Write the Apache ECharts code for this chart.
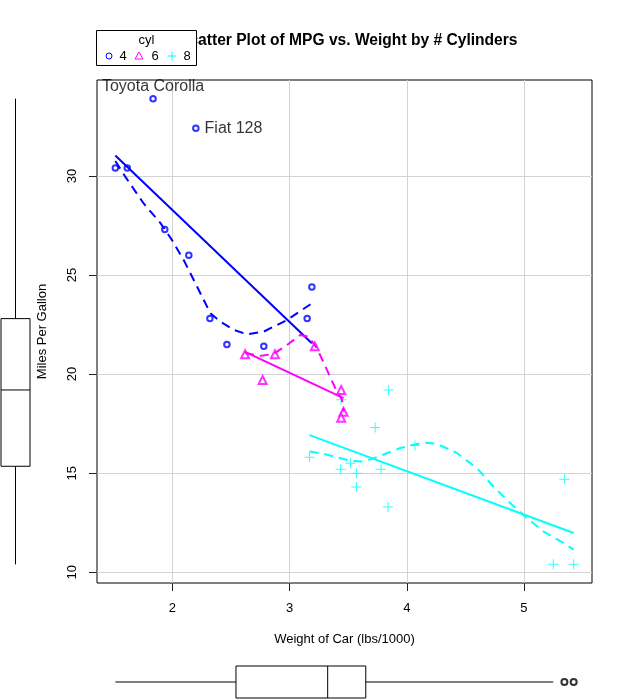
<!DOCTYPE html>
<html>
<head>
<meta charset="utf-8">
<script src="https://cdn.jsdelivr.net/npm/echarts@6/dist/echarts.min.js"></script>
<style>html,body{margin:0;padding:0;background:#fff}#c{width:626px;height:700px}</style>
</head>
<body>
<div id="c"></div>
<script>
// ---- data (mtcars: weight in 1000 lbs, miles per gallon) ----
const wt4  = [2.320, 3.190, 3.150, 2.200, 1.615, 1.835, 2.465, 1.935, 2.140, 1.513, 2.780];
const mpg4 = [22.8, 24.4, 22.8, 32.4, 30.4, 33.9, 21.5, 27.3, 26.0, 30.4, 21.4];
const names4 = ['', '', '', 'Fiat 128', '', 'Toyota Corolla', '', '', '', '', ''];
const wt6  = [2.620, 2.875, 3.215, 3.460, 3.440, 3.440, 2.770];
const mpg6 = [21.0, 21.0, 21.4, 18.1, 19.2, 17.8, 19.7];
const wt8  = [3.440, 3.570, 4.070, 3.730, 3.780, 5.250, 5.424, 5.345, 3.520, 3.435, 3.840, 3.845, 3.170, 3.570];
const mpg8 = [18.7, 14.3, 16.4, 17.3, 15.2, 10.4, 10.4, 14.7, 15.5, 15.2, 13.3, 19.2, 15.8, 15.0];

// regression lines (end points)
const fit4 = [[1.513, 31.03], [3.190, 21.56]];
const fit6 = [[2.620, 21.12], [3.460, 18.79]];
const fit8 = [[3.170, 16.92], [5.424, 11.98]];

// smoothed (dashed) curves
const smooth4 = [[1.513,30.75],[1.599,29.95],[1.755,28.61],[1.898,27.62],[1.997,26.76],[2.096,25.76],[2.211,24.41],[2.324,23.07],[2.409,22.65],[2.523,22.23],[2.637,22.01],[2.778,22.14],[2.978,22.73],[3.190,23.57]];
const smooth6 = [[2.620,21.07],[2.750,20.92],[2.864,21.02],[2.978,21.47],[3.091,21.97],[3.162,21.89],[3.234,21.30],[3.319,20.21],[3.390,19.29],[3.447,18.70],[3.460,18.11]];
const smooth8 = [[3.170,16.10],[3.290,15.98],[3.517,15.63],[3.631,15.59],[3.745,15.81],[3.944,16.27],[4.142,16.55],[4.257,16.48],[4.427,16.02],[4.598,15.26],[4.739,14.33],[4.882,13.50],[5.009,12.82],[5.165,12.07],[5.336,11.48],[5.424,11.14]];

// marginal boxplots: [lower whisker, lower hinge, median, upper hinge, upper whisker]
const mpgBox = [10.4, 15.35, 19.2, 22.8, 33.9];
const wtBox  = [1.513, 2.5425, 3.325, 3.65, 5.25];
const wtOutliers = [5.345, 5.424];

// ticks
const xTicks = [2, 3, 4, 5];
const yTicks = [10, 15, 20, 25, 30];
const cylLevels = ['4', '6', '8'];

// ---- styling ----
const FONT = '"Liberation Sans", Arial, Helvetica, sans-serif';
const WT_MIN = 1.35656, WT_MAX = 5.58044;
const MPG_MIN = 9.46, MPG_MAX = 34.84;
const BLUE = '#0000FF', MAGENTA = '#FF00FF', CYAN = '#00FFFF';
const PLUS = 'path://M9,0h2v9h9v2h-9v9h-2v-9h-9v-2h9z';

const pts = (xs, ys) => xs.map((x, i) => [x, ys[i]]);

const labelBase = {show: true, formatter: '{b}', fontSize: 16, color: '#000', fontFamily: FONT, textBorderWidth: 0};
const data4 = wt4.map((x, i) => {
  const item = {value: [x, mpg4[i]], name: names4[i]};
  if (names4[i] === 'Toyota Corolla') {
    item.label = Object.assign({}, labelBase, {position: 'top', distance: 0});
  } else if (names4[i]) {
    item.label = Object.assign({}, labelBase, {position: 'right', distance: 5});
  }
  return item;
});

function lineSeries(name, data, color, dashed) {
  return {
    name: name, type: 'line', xAxisIndex: 0, yAxisIndex: 0, data: data,
    symbol: 'none', showSymbol: false, silent: true, z: 4,
    lineStyle: {color: color, width: 2, type: dashed ? [9, 6] : 'solid', cap: 'butt'}
  };
}

function boxRender(vertical) {
  return function (params, api) {
    const v = [0, 1, 2, 3, 4].map(i => api.value(i));
    const P = val => vertical ? api.coord([0, val]) : api.coord([val, 0]);
    const half = 14.5;
    const hb = 16;
    const p = v.map(P);
    const children = [];
    if (vertical) {
      const cx = p[0][0];
      children.push({type: 'line', shape: {x1: cx, y1: p[0][1], x2: cx, y2: p[1][1]}, style: {stroke: '#000', lineWidth: 1}});
      children.push({type: 'line', shape: {x1: cx, y1: p[3][1], x2: cx, y2: p[4][1]}, style: {stroke: '#000', lineWidth: 1}});
      children.push({type: 'rect', shape: {x: cx - half, y: p[3][1], width: 2 * half, height: p[1][1] - p[3][1]}, style: {fill: '#fff', stroke: '#000', lineWidth: 1}});
      children.push({type: 'line', shape: {x1: cx - half, y1: p[2][1], x2: cx + half, y2: p[2][1]}, style: {stroke: '#000', lineWidth: 1}});
    } else {
      const cy = p[0][1];
      children.push({type: 'line', shape: {x1: p[0][0], y1: cy, x2: p[1][0], y2: cy}, style: {stroke: '#000', lineWidth: 1}});
      children.push({type: 'line', shape: {x1: p[3][0], y1: cy, x2: p[4][0], y2: cy}, style: {stroke: '#000', lineWidth: 1}});
      children.push({type: 'rect', shape: {x: p[1][0], y: cy - hb, width: p[3][0] - p[1][0], height: 2 * hb}, style: {fill: '#fff', stroke: '#000', lineWidth: 1}});
      children.push({type: 'line', shape: {x1: p[2][0], y1: cy - hb, x2: p[2][0], y2: cy + hb}, style: {stroke: '#000', lineWidth: 1}});
    }
    return {type: 'group', children: children};
  };
}

const axisText = {fontSize: 13, color: '#000', fontFamily: FONT};

const option = {
  animation: false,
  backgroundColor: '#ffffff',
  textStyle: {fontFamily: FONT},
  title: {
    text: 'Scatter Plot of MPG vs. Weight by # Cylinders',
    left: 179, top: 33, padding: 0,
    textStyle: {fontSize: 15.6, fontWeight: 'bold', color: '#000', fontFamily: FONT}
  },
  grid: [
    {left: 97, top: 80, width: 495, height: 503, show: true, borderColor: '#000', borderWidth: 1, backgroundColor: 'transparent', containLabel: false, outerBoundsMode: 'none'},
    {left: 1, top: 80, width: 29, height: 503, containLabel: false, outerBoundsMode: 'none'},
    {left: 97, top: 666, width: 495, height: 32, containLabel: false, outerBoundsMode: 'none'}
  ],
  xAxis: [
    {
      gridIndex: 0, type: 'value', min: WT_MIN, max: WT_MAX,
      axisLine: {show: false},
      axisTick: {show: true, length: 8, customValues: xTicks, lineStyle: {color: '#222', width: 1}},
      axisLabel: {customValues: xTicks, margin: 19, ...axisText},
      splitLine: {show: true, lineStyle: {color: '#d3d3d3', width: 1}},
      name: 'Weight of Car (lbs/1000)', nameLocation: 'middle', nameGap: 50,
      nameTextStyle: axisText
    },
    {gridIndex: 1, type: 'category', data: ['mpg'], show: false},
    {gridIndex: 2, type: 'value', min: WT_MIN, max: WT_MAX, show: false}
  ],
  yAxis: [
    {
      gridIndex: 0, type: 'value', min: MPG_MIN, max: MPG_MAX,
      axisLine: {show: false},
      axisTick: {show: true, length: 8, customValues: yTicks, lineStyle: {color: '#222', width: 1}},
      axisLabel: {customValues: yTicks, margin: 18, rotate: 90, ...axisText},
      splitLine: {show: true, lineStyle: {color: '#d3d3d3', width: 1}},
      name: 'Miles Per Gallon', nameLocation: 'middle', nameGap: 48,
      nameTextStyle: axisText
    },
    {gridIndex: 1, type: 'value', min: MPG_MIN, max: MPG_MAX, show: false},
    {gridIndex: 2, type: 'category', data: ['wt'], show: false}
  ],
  series: [
    {name: '4', type: 'scatter', xAxisIndex: 0, yAxisIndex: 0, data: data4, symbol: 'emptyCircle', symbolSize: 5.5,
     itemStyle: {color: BLUE, borderColor: BLUE, borderWidth: 1}, z: 3},
    {name: '6', type: 'scatter', xAxisIndex: 0, yAxisIndex: 0, data: pts(wt6, mpg6), symbol: 'emptyTriangle', symbolSize: 8,
     itemStyle: {color: MAGENTA, borderColor: MAGENTA, borderWidth: 1}, z: 3},
    {name: '8', type: 'scatter', xAxisIndex: 0, yAxisIndex: 0, data: pts(wt8, mpg8), symbol: PLUS, symbolSize: 10,
     itemStyle: {color: CYAN}, z: 3},
    lineSeries('fit 4', fit4, BLUE, false),
    lineSeries('smooth 4', smooth4, BLUE, true),
    lineSeries('fit 6', fit6, MAGENTA, false),
    lineSeries('smooth 6', smooth6, MAGENTA, true),
    lineSeries('fit 8', fit8, CYAN, false),
    lineSeries('smooth 8', smooth8, CYAN, true),
    {name: 'mpg box', type: 'custom', xAxisIndex: 1, yAxisIndex: 1, clip: false, silent: true,
     encode: {y: [0, 1, 2, 3, 4]}, data: [mpgBox], renderItem: boxRender(true)},
    {name: 'wt box', type: 'custom', xAxisIndex: 2, yAxisIndex: 2, clip: false, silent: true,
     encode: {x: [0, 1, 2, 3, 4]}, data: [wtBox], renderItem: boxRender(false)},
    {name: 'wt outliers', type: 'scatter', xAxisIndex: 2, yAxisIndex: 2, symbol: 'emptyCircle', symbolSize: 6,
     itemStyle: {color: '#000', borderColor: '#000', borderWidth: 1},
     data: wtOutliers.map(v => [v, 'wt'])}
  ],
  graphic: [
    {type: 'rect', z: 100, shape: {x: 96.5, y: 30.5, width: 100, height: 35}, style: {fill: '#fff', stroke: '#000', lineWidth: 1}},
    {type: 'text', z: 101, x: 146.5, y: 40, style: {text: 'cyl', fontSize: 13, fill: '#000', font: '13px ' + FONT, align: 'center', verticalAlign: 'middle'}},
    {type: 'circle', z: 101, shape: {cx: 109, cy: 56, r: 3}, style: {fill: 'none', stroke: BLUE, lineWidth: 1}},
    {type: 'text', z: 101, x: 123, y: 56, style: {text: cylLevels[0], font: '13px ' + FONT, fill: '#000', align: 'center', verticalAlign: 'middle'}},
    {type: 'polygon', z: 101, shape: {points: [[139, 52], [143, 59], [135, 59]]}, style: {fill: 'none', stroke: MAGENTA, lineWidth: 1}},
    {type: 'text', z: 101, x: 155, y: 56, style: {text: cylLevels[1], font: '13px ' + FONT, fill: '#000', align: 'center', verticalAlign: 'middle'}},
    {type: 'line', z: 101, shape: {x1: 172, y1: 51.5, x2: 172, y2: 60.5}, style: {stroke: CYAN, lineWidth: 1}},
    {type: 'line', z: 101, shape: {x1: 167.5, y1: 56, x2: 176.5, y2: 56}, style: {stroke: CYAN, lineWidth: 1}},
    {type: 'text', z: 101, x: 187, y: 56, style: {text: cylLevels[2], font: '13px ' + FONT, fill: '#000', align: 'center', verticalAlign: 'middle'}}
  ]
};

const chart = echarts.init(document.getElementById('c'), null, {renderer: 'canvas', width: 626, height: 700});
chart.setOption(option);
</script>
</body>
</html>
